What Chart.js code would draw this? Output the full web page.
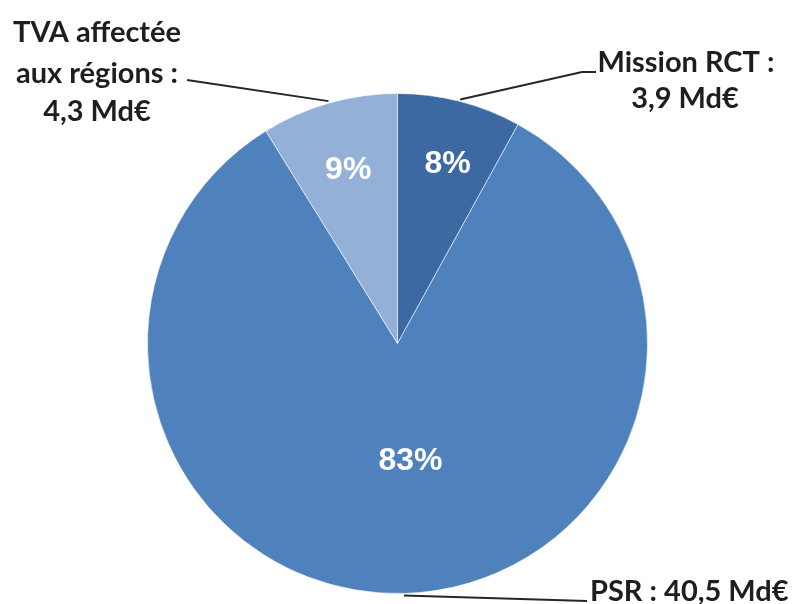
<!DOCTYPE html>
<html>
<head>
<meta charset="utf-8">
<script src="https://cdn.jsdelivr.net/npm/chart.js@4"></script>
<style>
  html, body { margin: 0; padding: 0; background: #ffffff; }
  #wrap { width: 795px; height: 604px; position: relative; }
</style>
</head>
<body>
<div id="wrap"><canvas id="c"></canvas></div>
<script>
// Data (clockwise from 12 o'clock)
const categories = ["Mission RCT", "PSR", "TVA affectée aux régions"];
const values = [3.9, 40.5, 4.3];
const sliceColors = ["#3d69a3", "#4f81bd", "#93b1d7"];
// Outer label lines per slice
const outerLabels = [
  ["Mission RCT :", "3,9 Md€"],
  ["PSR : 40,5 Md€"],
  ["TVA affectée", "aux régions :", "4,3 Md€"]
];

const total = values.reduce((a, b) => a + b, 0);

const labelPlugin = {
  id: 'pieLabels',
  afterDatasetsDraw(chart) {
    const ctx = chart.ctx;
    const meta = chart.getDatasetMeta(0);
    const pctRadiusFrac = [0.74, 0.47, 0.72];

    ctx.save();
    // Percentages inside slices
    ctx.fillStyle = '#ffffff';
    ctx.font = 'bold 32px "Liberation Sans", Arial, sans-serif';
    ctx.textAlign = 'center';
    ctx.textBaseline = 'middle';
    meta.data.forEach((arc, i) => {
      const p = arc.getProps(['x', 'y', 'startAngle', 'endAngle', 'outerRadius'], true);
      const mid = (p.startAngle + p.endAngle) / 2;
      const r = p.outerRadius * pctRadiusFrac[i];
      const x = p.x + Math.cos(mid) * r;
      const y = p.y + Math.sin(mid) * r;
      const pct = Math.round(values[i] / total * 100) + '%';
      ctx.fillText(pct, x + (i === 1 ? 10 : (i === 0 ? 4 : 0)), y);
    });

    // Leader lines + outer labels
    ctx.strokeStyle = '#262626';
    ctx.lineWidth = 2;
    ctx.fillStyle = '#1e1e1e';
    ctx.font = 'bold 29px Lato, "Open Sans", sans-serif';
    ctx.textBaseline = 'alphabetic';

    const anchor = (i) => {
      const p = meta.data[i].getProps(['x', 'y', 'startAngle', 'endAngle', 'outerRadius'], true);
      const mid = (p.startAngle + p.endAngle) / 2;
      return [p.x + Math.cos(mid) * (p.outerRadius + 2), p.y + Math.sin(mid) * (p.outerRadius + 2)];
    };

    // Mission RCT
    let a = anchor(0);
    ctx.beginPath();
    ctx.moveTo(a[0], a[1]);
    ctx.lineTo(582, 72);
    ctx.lineTo(596, 72);
    ctx.stroke();
    ctx.textAlign = 'center';
    ctx.fillText(outerLabels[0][0], 686, 72);
    ctx.fillText(outerLabels[0][1], 685, 108);

    // PSR
    a = anchor(1);
    ctx.beginPath();
    ctx.moveTo(a[0], a[1]);
    ctx.lineTo(587, 601);
    ctx.stroke();
    ctx.textAlign = 'left';
    ctx.fillText(outerLabels[1][0], 590, 601);

    // TVA
    a = anchor(2);
    ctx.beginPath();
    ctx.moveTo(a[0], a[1]);
    ctx.lineTo(187, 80);
    ctx.stroke();
    ctx.textAlign = 'center';
    ctx.fillText(outerLabels[2][0], 97, 42);
    ctx.fillText(outerLabels[2][1], 97, 83);
    ctx.fillText(outerLabels[2][2], 97, 121);
    ctx.restore();
  }
};

new Chart(document.getElementById('c'), {
  type: 'pie',
  data: {
    labels: categories,
    datasets: [{
      data: values,
      backgroundColor: sliceColors,
      borderColor: 'rgba(255,255,255,0.55)',
      borderWidth: 1
    }]
  },
  options: {
    responsive: true,
    maintainAspectRatio: false,
    animation: false,
    layout: { padding: { top: 93, bottom: 10, left: 0, right: 0 } },
    plugins: {
      legend: { display: false },
      tooltip: { enabled: false },
      title: { display: false }
    }
  },
  plugins: [labelPlugin]
});
</script>
</body>
</html>
